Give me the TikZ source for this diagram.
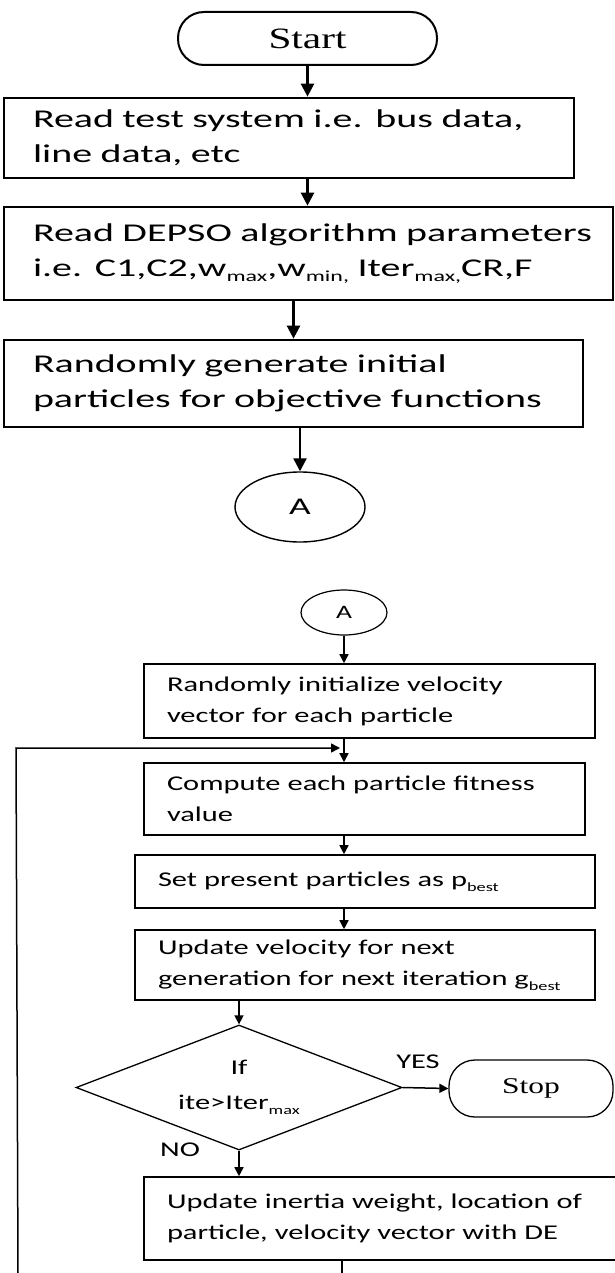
\documentclass[tikz,border=0pt]{standalone}
\usepackage{fontspec}
\setmainfont{Carlito}
\newfontfamily\topfont[FakeStretch=1.56]{Carlito}
\newfontfamily\lowfont[FakeStretch=1.45]{Carlito}
\newfontfamily\termfont[FakeStretch=1.4]{Liberation Serif}
\usetikzlibrary{shapes.geometric,arrows.meta}
\makeatletter
\newcommand\subtx[1]{\raisebox{-0.22em}{\fontsize{\fpeval{0.6*\f@size}}{1}\selectfont #1}}
\makeatother
\tikzset{
  topbox/.style={draw, line width=2.7pt, inner xsep=29pt, inner ysep=0pt, align=left,
    font={\topfont\fontsize{25.6}{35}\selectfont}},
  lowbox/.style={draw, line width=1.6pt, inner xsep=23pt, inner ysep=0pt, align=left,
    font={\lowfont\fontsize{21}{31}\selectfont}},
  termbox/.style={draw, rounded corners=26pt, inner sep=0pt},
  connbox/.style={draw, ellipse, inner sep=0pt, line width=1.4pt},
  arrtop/.style={line width=2.4pt, -{Triangle[length=13pt,width=13pt]}},
  arrlow/.style={line width=1.5pt, -{Triangle[length=9pt,width=9pt]}},
  lbl/.style={inner sep=0pt, font={\lowfont\fontsize{21}{21}\selectfont}}
}
\begin{document}
\begin{tikzpicture}[x=1pt,y=-1pt]
\useasboundingbox (0,0) rectangle (615,1273);
% upper part
\node[termbox, line width=2pt, minimum width=259pt, minimum height=53pt,
  font={\termfont\fontsize{29.5}{29.5}\selectfont}] (start) at (307.5,38.5) {Start};
\node[topbox, text width=512pt, minimum height=80pt] (b1) at (289,138)
  {\mbox{Read test system i.e. bus data,}\\ line data, etc};
\node[topbox, text width=551pt, minimum height=93pt] (b2) at (308.5,253.5)
  {\mbox{Read DEPSO algorithm parameters}\\ \mbox{i.e. C1,C2,w\subtx{max},w\subtx{min,} Iter\subtx{max,}CR,F}};
\node[topbox, text width=521pt, minimum height=87pt] (b3) at (293.5,383.5)
  {Randomly generate initial\\ \mbox{particles for objective functions}};
\node[connbox, minimum width=130pt, minimum height=70pt,
  font={\topfont\fontsize{24}{24}\selectfont}] (a1) at (300,507) {A};
% lower part
\node[connbox, line width=1.2pt, minimum width=86pt, minimum height=45pt,
  font={\lowfont\fontsize{19}{19}\selectfont}] (a2) at (344,612.5) {A};
\node[lowbox, text width=405pt, minimum height=74pt] (b4) at (369.5,701)
  {Randomly initialize velocity\\ vector for each particle};
\node[lowbox, text width=395pt, minimum height=72pt] (b5) at (364.5,799)
  {Compute each particle fitness\\ value};
\node[lowbox, text width=414pt, minimum height=53pt] (b6) at (365,881.5)
  {Set present particles as p\subtx{best}};
\node[lowbox, text width=414pt, minimum height=70pt] (b7) at (365,965)
  {Update velocity for next\\ \mbox{generation for next iteration g\subtx{best}}};
\node[diamond, draw, aspect=2.6, minimum width=326pt, minimum height=125pt, inner sep=0pt,
  line width=1.3pt, align=center, font={\lowfont\fontsize{21}{35}\selectfont}] (dia) at (239,1087.5)
  {If\\ ite>Iter\subtx{max}};
\node[termbox, line width=1.3pt, minimum width=164pt, minimum height=57pt,
  font={\termfont\fontsize{22.5}{22.5}\selectfont}] (stop) at (531,1088.5) {Stop};
\node[lbl] (yes) at (418,1062) {YES};
\node[lbl] (no) at (180,1150) {NO};
\node[lowbox, text width=430pt, minimum height=83pt] (b8) at (382,1218.5)
  {Update inertia weight, location of\\ particle, velocity vector with DE};
% connectors
\draw[arrtop] (start.south) -- (start.south |- b1.north);
\draw[arrtop] (start.south |- b1.south) -- (start.south |- b2.north);
\draw[arrtop] (b3.north |- b2.south) -- (b3.north);
\draw[arrtop] (a1.north |- b3.south) -- (a1.north);
\draw[arrlow] (a2.south) -- (a2.south |- b4.north);
\draw[arrlow] (a2.south |- b4.south) -- (a2.south |- b5.north);
\coordinate (fbB) at (18,1273);
\coordinate (fbC) at (16,748);
\coordinate (fbE) at (340,748);
\draw[arrlow] (fbB) -- (fbC) -- (fbE);
\draw[arrlow] (a2.south |- b5.south) -- (a2.south |- b6.north);
\draw[arrlow] (a2.south |- b6.south) -- (a2.south |- b7.north);
\draw[arrlow] (dia.north |- b7.south) -- (dia.north);
\draw[arrlow] (dia.east) -- (stop.west);
\draw[arrlow] (dia.south) -- (dia.south |- b8.north);
\coordinate (b8end) at (342,1273);
\draw[line width=1.5pt] (b8.south -| b8end) -- (b8end);
\end{tikzpicture}
\end{document}
